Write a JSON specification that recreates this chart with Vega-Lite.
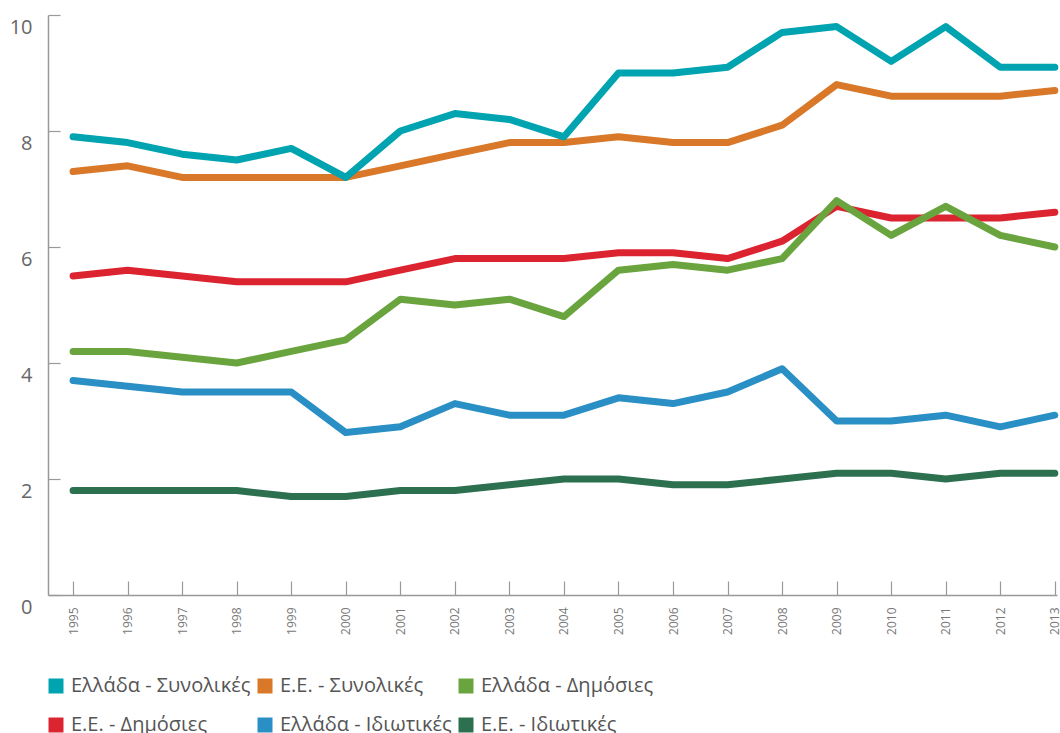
{
  "$schema": "https://vega.github.io/schema/vega-lite/v6.json",
  "width": 1009,
  "height": 580,
  "autosize": "none",
  "padding": {"left": 48, "top": 15, "right": 3, "bottom": 138},
  "background": "white",
  "config": {
    "view": {"stroke": null},
    "font": "Open Sans"
  },
  "data": {
    "values": [
      {"year": 1995, "series": "Ε.Ε. - Ιδιωτικές", "value": 1.8},
      {"year": 1996, "series": "Ε.Ε. - Ιδιωτικές", "value": 1.8},
      {"year": 1997, "series": "Ε.Ε. - Ιδιωτικές", "value": 1.8},
      {"year": 1998, "series": "Ε.Ε. - Ιδιωτικές", "value": 1.8},
      {"year": 1999, "series": "Ε.Ε. - Ιδιωτικές", "value": 1.7},
      {"year": 2000, "series": "Ε.Ε. - Ιδιωτικές", "value": 1.7},
      {"year": 2001, "series": "Ε.Ε. - Ιδιωτικές", "value": 1.8},
      {"year": 2002, "series": "Ε.Ε. - Ιδιωτικές", "value": 1.8},
      {"year": 2003, "series": "Ε.Ε. - Ιδιωτικές", "value": 1.9},
      {"year": 2004, "series": "Ε.Ε. - Ιδιωτικές", "value": 2.0},
      {"year": 2005, "series": "Ε.Ε. - Ιδιωτικές", "value": 2.0},
      {"year": 2006, "series": "Ε.Ε. - Ιδιωτικές", "value": 1.9},
      {"year": 2007, "series": "Ε.Ε. - Ιδιωτικές", "value": 1.9},
      {"year": 2008, "series": "Ε.Ε. - Ιδιωτικές", "value": 2.0},
      {"year": 2009, "series": "Ε.Ε. - Ιδιωτικές", "value": 2.1},
      {"year": 2010, "series": "Ε.Ε. - Ιδιωτικές", "value": 2.1},
      {"year": 2011, "series": "Ε.Ε. - Ιδιωτικές", "value": 2.0},
      {"year": 2012, "series": "Ε.Ε. - Ιδιωτικές", "value": 2.1},
      {"year": 2013, "series": "Ε.Ε. - Ιδιωτικές", "value": 2.1},

      {"year": 1995, "series": "Ελλάδα - Ιδιωτικές", "value": 3.7},
      {"year": 1996, "series": "Ελλάδα - Ιδιωτικές", "value": 3.6},
      {"year": 1997, "series": "Ελλάδα - Ιδιωτικές", "value": 3.5},
      {"year": 1998, "series": "Ελλάδα - Ιδιωτικές", "value": 3.5},
      {"year": 1999, "series": "Ελλάδα - Ιδιωτικές", "value": 3.5},
      {"year": 2000, "series": "Ελλάδα - Ιδιωτικές", "value": 2.8},
      {"year": 2001, "series": "Ελλάδα - Ιδιωτικές", "value": 2.9},
      {"year": 2002, "series": "Ελλάδα - Ιδιωτικές", "value": 3.3},
      {"year": 2003, "series": "Ελλάδα - Ιδιωτικές", "value": 3.1},
      {"year": 2004, "series": "Ελλάδα - Ιδιωτικές", "value": 3.1},
      {"year": 2005, "series": "Ελλάδα - Ιδιωτικές", "value": 3.4},
      {"year": 2006, "series": "Ελλάδα - Ιδιωτικές", "value": 3.3},
      {"year": 2007, "series": "Ελλάδα - Ιδιωτικές", "value": 3.5},
      {"year": 2008, "series": "Ελλάδα - Ιδιωτικές", "value": 3.9},
      {"year": 2009, "series": "Ελλάδα - Ιδιωτικές", "value": 3.0},
      {"year": 2010, "series": "Ελλάδα - Ιδιωτικές", "value": 3.0},
      {"year": 2011, "series": "Ελλάδα - Ιδιωτικές", "value": 3.1},
      {"year": 2012, "series": "Ελλάδα - Ιδιωτικές", "value": 2.9},
      {"year": 2013, "series": "Ελλάδα - Ιδιωτικές", "value": 3.1},

      {"year": 1995, "series": "Ε.Ε. - Δημόσιες", "value": 5.5},
      {"year": 1996, "series": "Ε.Ε. - Δημόσιες", "value": 5.6},
      {"year": 1997, "series": "Ε.Ε. - Δημόσιες", "value": 5.5},
      {"year": 1998, "series": "Ε.Ε. - Δημόσιες", "value": 5.4},
      {"year": 1999, "series": "Ε.Ε. - Δημόσιες", "value": 5.4},
      {"year": 2000, "series": "Ε.Ε. - Δημόσιες", "value": 5.4},
      {"year": 2001, "series": "Ε.Ε. - Δημόσιες", "value": 5.6},
      {"year": 2002, "series": "Ε.Ε. - Δημόσιες", "value": 5.8},
      {"year": 2003, "series": "Ε.Ε. - Δημόσιες", "value": 5.8},
      {"year": 2004, "series": "Ε.Ε. - Δημόσιες", "value": 5.8},
      {"year": 2005, "series": "Ε.Ε. - Δημόσιες", "value": 5.9},
      {"year": 2006, "series": "Ε.Ε. - Δημόσιες", "value": 5.9},
      {"year": 2007, "series": "Ε.Ε. - Δημόσιες", "value": 5.8},
      {"year": 2008, "series": "Ε.Ε. - Δημόσιες", "value": 6.1},
      {"year": 2009, "series": "Ε.Ε. - Δημόσιες", "value": 6.7},
      {"year": 2010, "series": "Ε.Ε. - Δημόσιες", "value": 6.5},
      {"year": 2011, "series": "Ε.Ε. - Δημόσιες", "value": 6.5},
      {"year": 2012, "series": "Ε.Ε. - Δημόσιες", "value": 6.5},
      {"year": 2013, "series": "Ε.Ε. - Δημόσιες", "value": 6.6},

      {"year": 1995, "series": "Ελλάδα - Δημόσιες", "value": 4.2},
      {"year": 1996, "series": "Ελλάδα - Δημόσιες", "value": 4.2},
      {"year": 1997, "series": "Ελλάδα - Δημόσιες", "value": 4.1},
      {"year": 1998, "series": "Ελλάδα - Δημόσιες", "value": 4.0},
      {"year": 1999, "series": "Ελλάδα - Δημόσιες", "value": 4.2},
      {"year": 2000, "series": "Ελλάδα - Δημόσιες", "value": 4.4},
      {"year": 2001, "series": "Ελλάδα - Δημόσιες", "value": 5.1},
      {"year": 2002, "series": "Ελλάδα - Δημόσιες", "value": 5.0},
      {"year": 2003, "series": "Ελλάδα - Δημόσιες", "value": 5.1},
      {"year": 2004, "series": "Ελλάδα - Δημόσιες", "value": 4.8},
      {"year": 2005, "series": "Ελλάδα - Δημόσιες", "value": 5.6},
      {"year": 2006, "series": "Ελλάδα - Δημόσιες", "value": 5.7},
      {"year": 2007, "series": "Ελλάδα - Δημόσιες", "value": 5.6},
      {"year": 2008, "series": "Ελλάδα - Δημόσιες", "value": 5.8},
      {"year": 2009, "series": "Ελλάδα - Δημόσιες", "value": 6.8},
      {"year": 2010, "series": "Ελλάδα - Δημόσιες", "value": 6.2},
      {"year": 2011, "series": "Ελλάδα - Δημόσιες", "value": 6.7},
      {"year": 2012, "series": "Ελλάδα - Δημόσιες", "value": 6.2},
      {"year": 2013, "series": "Ελλάδα - Δημόσιες", "value": 6.0},

      {"year": 1995, "series": "Ε.Ε. - Συνολικές", "value": 7.3},
      {"year": 1996, "series": "Ε.Ε. - Συνολικές", "value": 7.4},
      {"year": 1997, "series": "Ε.Ε. - Συνολικές", "value": 7.2},
      {"year": 1998, "series": "Ε.Ε. - Συνολικές", "value": 7.2},
      {"year": 1999, "series": "Ε.Ε. - Συνολικές", "value": 7.2},
      {"year": 2000, "series": "Ε.Ε. - Συνολικές", "value": 7.2},
      {"year": 2001, "series": "Ε.Ε. - Συνολικές", "value": 7.4},
      {"year": 2002, "series": "Ε.Ε. - Συνολικές", "value": 7.6},
      {"year": 2003, "series": "Ε.Ε. - Συνολικές", "value": 7.8},
      {"year": 2004, "series": "Ε.Ε. - Συνολικές", "value": 7.8},
      {"year": 2005, "series": "Ε.Ε. - Συνολικές", "value": 7.9},
      {"year": 2006, "series": "Ε.Ε. - Συνολικές", "value": 7.8},
      {"year": 2007, "series": "Ε.Ε. - Συνολικές", "value": 7.8},
      {"year": 2008, "series": "Ε.Ε. - Συνολικές", "value": 8.1},
      {"year": 2009, "series": "Ε.Ε. - Συνολικές", "value": 8.8},
      {"year": 2010, "series": "Ε.Ε. - Συνολικές", "value": 8.6},
      {"year": 2011, "series": "Ε.Ε. - Συνολικές", "value": 8.6},
      {"year": 2012, "series": "Ε.Ε. - Συνολικές", "value": 8.6},
      {"year": 2013, "series": "Ε.Ε. - Συνολικές", "value": 8.7},

      {"year": 1995, "series": "Ελλάδα - Συνολικές", "value": 7.9},
      {"year": 1996, "series": "Ελλάδα - Συνολικές", "value": 7.8},
      {"year": 1997, "series": "Ελλάδα - Συνολικές", "value": 7.6},
      {"year": 1998, "series": "Ελλάδα - Συνολικές", "value": 7.5},
      {"year": 1999, "series": "Ελλάδα - Συνολικές", "value": 7.7},
      {"year": 2000, "series": "Ελλάδα - Συνολικές", "value": 7.2},
      {"year": 2001, "series": "Ελλάδα - Συνολικές", "value": 8.0},
      {"year": 2002, "series": "Ελλάδα - Συνολικές", "value": 8.3},
      {"year": 2003, "series": "Ελλάδα - Συνολικές", "value": 8.2},
      {"year": 2004, "series": "Ελλάδα - Συνολικές", "value": 7.9},
      {"year": 2005, "series": "Ελλάδα - Συνολικές", "value": 9.0},
      {"year": 2006, "series": "Ελλάδα - Συνολικές", "value": 9.0},
      {"year": 2007, "series": "Ελλάδα - Συνολικές", "value": 9.1},
      {"year": 2008, "series": "Ελλάδα - Συνολικές", "value": 9.7},
      {"year": 2009, "series": "Ελλάδα - Συνολικές", "value": 9.8},
      {"year": 2010, "series": "Ελλάδα - Συνολικές", "value": 9.2},
      {"year": 2011, "series": "Ελλάδα - Συνολικές", "value": 9.8},
      {"year": 2012, "series": "Ελλάδα - Συνολικές", "value": 9.1},
      {"year": 2013, "series": "Ελλάδα - Συνολικές", "value": 9.1}
    ]
  },
  "mark": {"type": "line", "strokeWidth": 7, "strokeCap": "round", "strokeJoin": "round"},
  "encoding": {
    "x": {
      "field": "year",
      "type": "quantitative",
      "scale": {"domain": [1994.54, 2013.04], "nice": false, "zero": false},
      "axis": {
        "title": null,
        "values": [1995,1996,1997,1998,1999,2000,2001,2002,2003,2004,2005,2006,2007,2008,2009,2010,2011,2012,2013],
        "format": "d",
        "labelAngle": -90,
        "labelFontSize": 12,
        "labelColor": "#777777",
        "labelPadding": 26,
        "tickSize": -14,
        "tickColor": "#999999",
        "tickWidth": 1.2,
        "domainColor": "#999999",
        "domainWidth": 1.5,
        "grid": false
      }
    },
    "y": {
      "field": "value",
      "type": "quantitative",
      "scale": {"domain": [0, 10], "nice": false},
      "axis": {
        "title": null,
        "values": [0, 2, 4, 6, 8, 10],
        "labelFontSize": 20,
        "labelColor": "#666666",
        "labelOffset": 12,
        "labelPadding": 28,
        "tickSize": -12,
        "tickColor": "#999999",
        "tickWidth": 1.2,
        "domainColor": "#999999",
        "domainWidth": 1.5,
        "grid": false
      }
    },
    "color": {
      "field": "series",
      "type": "nominal",
      "scale": {
        "domain": ["Ελλάδα - Συνολικές", "Ε.Ε. - Συνολικές", "Ελλάδα - Δημόσιες", "Ε.Ε. - Δημόσιες", "Ελλάδα - Ιδιωτικές", "Ε.Ε. - Ιδιωτικές"],
        "range": ["#00a3b0", "#d87828", "#6aa43e", "#db242f", "#2a8fc4", "#2d7050"]
      },
      "legend": {
        "title": null,
        "orient": "none",
        "legendX": -2,
        "legendY": 661,
        "direction": "horizontal",
        "columns": 3,
        "columnPadding": 4,
        "rowPadding": 19,
        "symbolType": "square",
        "symbolSize": 225,
        "symbolOpacity": 1,
        "labelFontSize": 20,
        "labelColor": "#555555",
        "labelOffset": 5,
        "labelLimit": 400,
        "encode": {
          "symbols": {
            "update": {
              "fill": {"scale": "color", "field": "value"},
              "strokeWidth": {"value": 0}
            }
          }
        }
      }
    }
  }
}
